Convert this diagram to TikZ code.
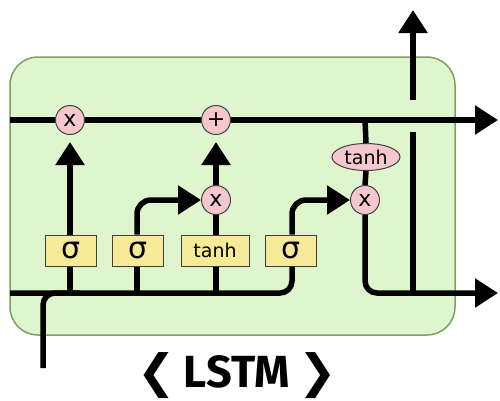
\documentclass[tikz,border=0pt]{standalone}
\usepackage{fontspec}
\setmainfont{DejaVu Sans}
\newfontfamily\titlefont{Fira Sans}
\newfontfamily\symfont{DejaVu Sans}
\usetikzlibrary{arrows.meta,shapes.geometric}
\definecolor{cellgreen}{RGB}{222,245,205}
\definecolor{cellborder}{RGB}{126,160,95}
\definecolor{gateyellow}{RGB}{246,233,151}
\definecolor{oppink}{RGB}{246,200,205}
\begin{document}
\begin{tikzpicture}[x=1pt,y=-1pt,
  flow/.style={line width=5.5pt},
  arr/.style={flow, -{Triangle[length=23pt,width=28pt]}},
  gate/.style={draw=black!75, line width=1pt, fill=gateyellow, minimum width=51pt, minimum height=31pt, inner sep=0pt, font=\fontsize{30}{30}\selectfont},
  op/.style={circle, draw=black!75, line width=1pt, fill=oppink, minimum size=29pt, inner sep=0pt, font=\fontsize{22}{22}\selectfont},
]
\useasboundingbox (0,0) rectangle (500,400);
\draw[fill=cellgreen, draw=cellborder, line width=1.5pt, rounded corners=28pt] (10,57) rectangle (455,335);

% nodes
\node[gate] (s1) at (71,250.5) {σ};
\node[gate] (s2) at (138,250.5) {σ};
\node[gate, minimum width=68pt, font=\fontsize{19}{19}\selectfont] (t1) at (215,250.5) {tanh};
\node[gate] (s4) at (291,250.5) {σ};
\node[op] (m1) at (70,120) {x};
\node[op] (p1) at (216,120) {+};
\node[op] (m2) at (216,200) {x};
\node[op] (m3) at (365,200) {x};
\node[ellipse, draw=black!75, line width=1pt, fill=oppink, minimum width=68pt, minimum height=27pt, inner sep=0pt, font=\fontsize{19}{19}\selectfont] (t2) at (366,157) {tanh};
\node[anchor=base, inner sep=0pt, font=\titlefont\bfseries\fontsize{45}{45}\selectfont] (title) at (237,387) {{\symfont\fontsize{46}{46}\selectfont ❮}\hspace{8pt}LSTM\hspace{8pt}{\symfont\fontsize{46}{46}\selectfont ❯}};

\coordinate (cin) at (10,120);
\coordinate (cout) at (498,120);
\coordinate (hin) at (10,293);
\coordinate (xin) at (43,368);
\coordinate (hout) at (498,293);
\coordinate (htop) at (413,10);

% cell state line
\draw[flow] (cin) -- (m1.west);
\draw[flow] (m1.east) -- (p1.west);
\draw[arr] (p1.east) -- (cout);
\draw[flow] (365,120) -- (t2.north);
\draw[flow] (t2.south) -- (m3.north);

% bottom input line
\draw[flow, rounded corners=12pt] (hin) -- (292,293) -- (s4.south -| 292,0);
\draw[flow, rounded corners=12pt] (xin) -- (43,293) -- (80,293);
\draw[flow] (s1.south -| 70,0) -- (70,293);
\draw[flow] (s2.south -| 137,0) -- (137,293);
\draw[flow] (t1.south -| 216,0) -- (216,293);

% gates upward
\draw[arr, shorten >=7pt] (s1.north -| 70,0) -- (m1.south);
\draw[arr, rounded corners=14pt] (s2.north -| 137,0) -- (137,200) -- (m2.west);
\draw[flow] (t1.north -| 216,0) -- (m2.south);
\draw[arr, shorten >=7pt] (m2.north) -- (p1.south);
\draw[arr, rounded corners=14pt] (s4.north -| 292,0) -- (292,200) -- (m3.west);

% output
\draw[arr, rounded corners=12pt] (m3.south) -- (365,293) -- (hout);
\draw[flow] (413,293) -- (413,132);
\draw[arr] (413,100) -- (htop);
\end{tikzpicture}
\end{document}
